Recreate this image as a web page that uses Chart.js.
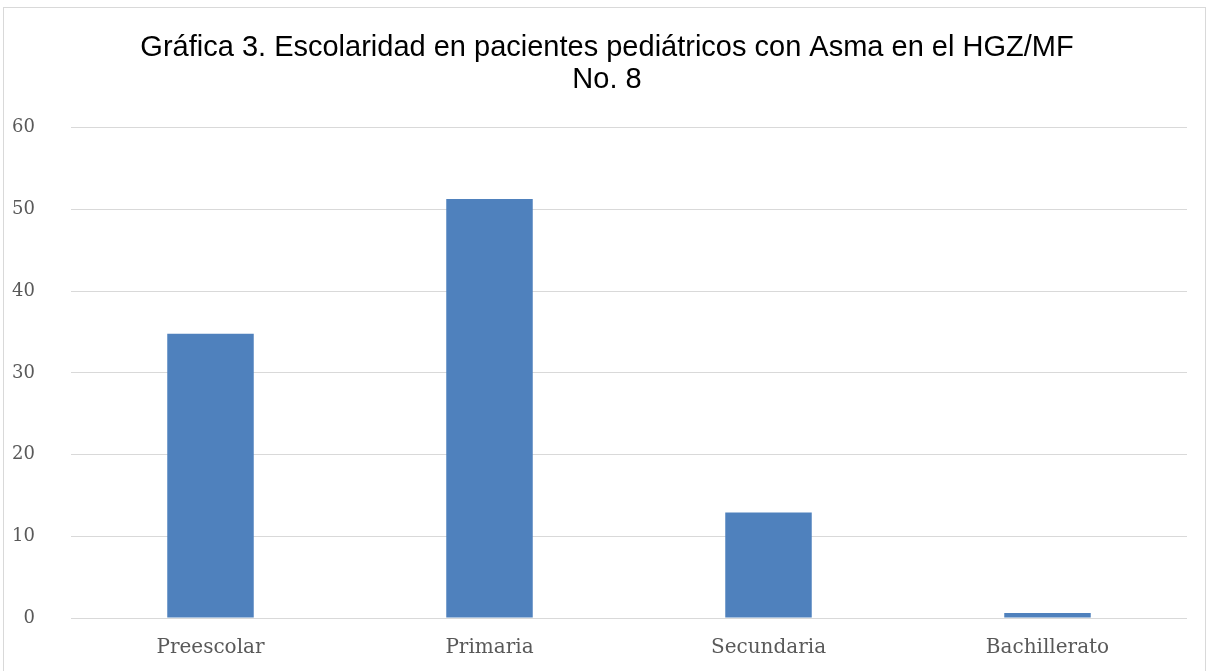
<!DOCTYPE html>
<html lang="es">
<head>
    <meta charset="UTF-8" />
    <title>Gráfica 3. Escolaridad</title>
    <script src="https://cdn.jsdelivr.net/npm/chart.js"></script>
    <style>
        html, body { margin: 0; padding: 0; background: #fff; }
        #wrap { position: relative; width: 1214px; height: 671px; }
        #frame { position: absolute; left: 3px; top: 7px; width: 1201px; height: 680px; border: 1px solid #d9d9d9; }
        canvas { position: absolute; left: 0; top: 0; }
    </style>
</head>
<body>
    <div id="wrap">
        <div id="frame"></div>
        <canvas id="chart" width="1214" height="671"></canvas>
    </div>

    <script>
        const categories = ['Preescolar', 'Primaria', 'Secundaria', 'Bachillerato'];
        const values = [34.8, 51.3, 12.9, 0.6];
        const yTicks = [0, 10, 20, 30, 40, 50, 60];
        const titleLines = ['Gráfica 3. Escolaridad en pacientes pediátricos con Asma en el HGZ/MF', 'No. 8'];

        const serif = '"DejaVu Serif", "Liberation Serif", serif';

        new Chart(document.getElementById('chart'), {
            type: 'bar',
            data: {
                labels: categories,
                datasets: [{
                    data: values,
                    backgroundColor: '#4F81BD',
                    barPercentage: 0.31,
                    categoryPercentage: 1
                }]
            },
            options: {
                responsive: false,
                animation: false,
                layout: { padding: { top: 10, left: 0, right: 0, bottom: 0 } },
                plugins: {
                    legend: { display: false },
                    tooltip: { enabled: false },
                    title: {
                        display: true,
                        text: titleLines,
                        color: '#000',
                        font: { family: '"Liberation Sans", Arial, sans-serif', size: 29, weight: 'normal', lineHeight: 1.1 },
                        padding: { top: 22, bottom: 32 }
                    }
                },
                scales: {
                    x: {
                        grid: { display: false, drawTicks: false },
                        border: { display: false },
                        ticks: { color: '#595959', font: { family: serif, size: 20 }, padding: 18 },
                        afterFit: s => { s.height = 53; }
                    },
                    y: {
                        min: 0,
                        max: 60,
                        afterBuildTicks: s => { s.ticks = yTicks.map(v => ({ value: v })); },
                        grid: { color: '#d9d9d9', lineWidth: 1, drawTicks: false },
                        border: { display: false },
                        ticks: { color: '#595959', font: { family: serif, size: 18 }, padding: 36 },
                        afterFit: s => { s.width = 71; }
                    },
                    // empty right margin so the title centres on the page
                    yRight: {
                        display: true,
                        position: 'right',
                        grid: { display: false },
                        border: { display: false },
                        ticks: { display: false },
                        afterFit: s => { s.width = 27; }
                    }
                }
            }
        });
    </script>
</body>
</html>
